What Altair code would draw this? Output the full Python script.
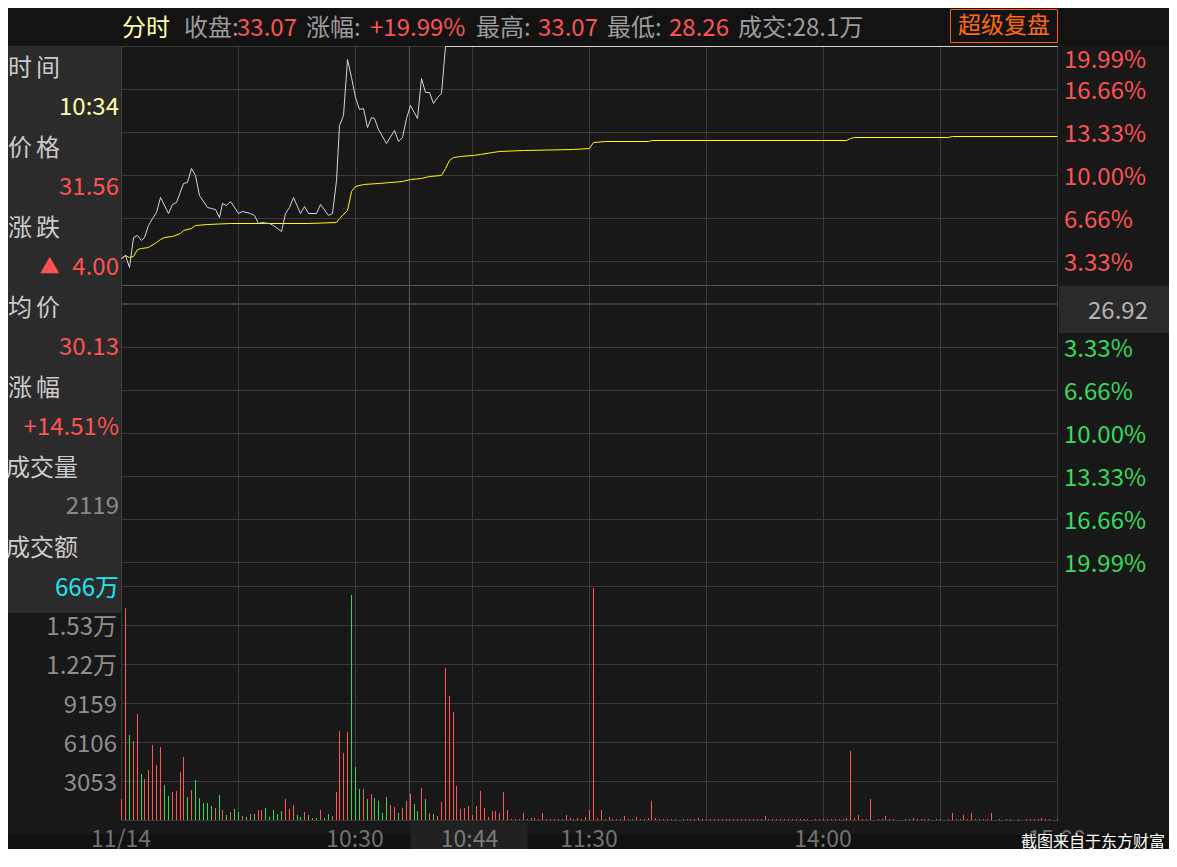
import altair as alt
import pandas as pd

FONT = "Noto Sans CJK SC"

# ---------------- data ----------------
# price line: minute index (0 = 09:30, 120 = 11:30/13:00, 240 = 15:00), change in %
price_min = [0, 1, 2, 3, 4, 5, 6, 7, 8, 9,
             10, 12, 13, 14, 16, 17, 18, 19, 20, 22,
             23, 24, 25, 26, 27, 28, 30, 31, 33, 34,
             35, 36, 38, 39, 41, 42, 43, 44, 46, 47,
             48, 50, 51, 53, 54, 55, 56, 57, 58, 59,
             60, 61, 62, 63, 64, 65, 66, 68, 70, 71,
             72, 73, 74, 76, 77, 78, 79, 80, 81, 82,
             83, 240]
price_pct = [3.54, 3.80, 2.84, 5.22, 5.35, 4.96, 5.22, 6.12, 6.64, 7.16,
             8.27, 7.08, 7.75, 7.93, 9.36, 9.48, 10.52, 10.00, 8.45, 7.54,
             7.42, 7.34, 6.77, 7.80, 7.67, 8.01, 7.08, 7.23, 7.08, 6.90,
             6.30, 6.38, 6.25, 6.12, 5.66, 7.03, 7.54, 8.27, 7.08, 7.60,
             7.03, 7.03, 7.75, 6.90, 7.08, 9.61, 13.88, 14.65, 18.97, 17.62,
             16.07, 15.12, 15.17, 13.70, 14.47, 14.40, 13.54, 12.45, 13.49, 12.66,
             12.97, 14.40, 15.43, 14.40, 17.50, 16.46, 16.46, 15.60, 16.07, 16.33,
             19.99, 19.99]

# average price line
avg_min = [0, 1, 2, 3, 4, 5, 7, 9, 10, 11,
           13, 15, 16, 18, 19, 22, 28, 37, 48, 55,
           56, 58, 59, 60, 62, 66, 69, 72, 74, 77,
           79, 82, 83, 84, 85, 87, 90, 92, 95, 97,
           103, 116, 120, 121, 124, 135, 136, 186, 187, 188,
           212, 213, 240]
avg_pct = [3.54, 3.80, 3.67, 3.72, 4.24, 4.32, 4.44, 4.83, 5.01, 5.22,
           5.27, 5.48, 5.74, 5.87, 6.10, 6.20, 6.25, 6.28, 6.30, 6.33,
           6.64, 7.29, 8.78, 9.15, 9.28, 9.40, 9.48, 9.53, 9.66, 9.77,
           9.92, 9.97, 10.52, 11.16, 11.37, 11.45, 11.55, 11.63, 11.76, 11.84,
           11.91, 11.99, 12.07, 12.53, 12.61, 12.61, 12.69, 12.69, 12.84, 12.92,
           12.92, 13.00, 13.00]

# volume per minute (0..240) and direction r = up, g = down
vol = [1620, 16620, 6650, 6180, 8300, 3600, 3210, 3910, 5870, 4300,
       5710, 2740, 1880, 2190, 2270, 3760, 4930, 1800, 2350, 3130,
       1720, 1330, 1330, 1100, 940, 1960, 780, 390, 630, 860,
       630, 310, 230, 470, 470, 780, 780, 940, 230, 780,
       470, 700, 1640, 860, 1170, 390, 230, 630, 390, 160,
       160, 780, 160, 470, 310, 2190, 6970, 5240, 6890, 17610,
       4150, 2430, 2430, 1640, 2040, 1720, 1490, 550, 1800, 1170,
       1020, 550, 940, 1490, 2040, 1250, 700, 2500, 1640, 550,
       470, 310, 1410, 11900, 9700, 8450, 2660, 860, 940, 1100,
       390, 1100, 2270, 940, 230, 700, 700, 550, 2190, 780,
       80, 80, 80, 550, 80, 160, 160, 80, 550, 80,
       80, 80, 80, 80, 390, 160, 80, 160, 80, 230,
       780, 18160, 160, 780, 80, 230, 80, 80, 80, 310,
       80, 80, 230, 80, 80, 160, 1490, 160, 80, 80,
       80, 80, 80, 0, 80, 80, 80, 80, 160, 80,
       80, 80, 80, 80, 80, 80, 80, 80, 80, 80,
       80, 80, 80, 80, 80, 310, 80, 80, 80, 80,
       80, 80, 80, 80, 80, 80, 80, 0, 80, 80,
       80, 80, 80, 80, 80, 80, 160, 5400, 160, 390,
       80, 80, 1640, 0, 80, 80, 310, 80, 80, 0,
       0, 80, 80, 160, 80, 80, 80, 80, 0, 80,
       80, 0, 80, 550, 80, 80, 390, 80, 550, 80,
       80, 80, 80, 550, 0, 80, 0, 80, 80, 0,
       80, 0, 80, 80, 80, 80, 160, 80, 80, 0,
       80]
vol_dir = ("rrgrrgrrrr" "rggrrrrgrg" "ggggrgrgrg" "grgrgrrggg" "ggrrrggrgr"
           "grggrrrrrg" "ggrgrggggr" "rgrrrggrgr" "grrrrrrrrr" + "r" * 151)

# axis ticks
grid_pct = [19.99, 16.66, 13.33, 10.00, 6.66, 3.33, -3.33, -6.66, -10.00, -13.33, -16.66, -19.99]
up_ticks = [16.66, 13.33, 10.00, 6.66, 3.33]
up_labels = ["16.66%", "13.33%", "10.00%", "6.66%", "3.33%"]
down_ticks = [-3.33, -6.66, -10.00, -13.33, -16.66, -19.99]
down_labels = ["3.33%", "6.66%", "10.00%", "13.33%", "16.66%", "19.99%"]
vol_ticks = [3053, 6106, 9159, 12212, 15265]
vol_labels = ["3053", "6106", "9159", "1.22万", "1.53万"]
vol_grid = [0, 3053, 6106, 9159, 12212, 15265, 18318]
time_ticks = [0, 60, 120, 180, 240]
time_labels = ["11/14", "10:30", "11:30", "14:00", "15:00"]
grid_min = [0, 30, 60, 90, 120, 150, 180, 210, 240]
cursor_min = [74]
ref_line = [1.46]
zero_line = [0.0]

# ---------------- layout / style ----------------
X0, Y0 = 121, 46          # plot origin in page pixels
W, H = 936, 774
RIGHT, BOTTOM = 1169, 849  # page pixel where the svg ends
PX_PER_PCT = 12.9
PX_PER_3053 = 39.0
FS = 24
TEXT_SHIFT = 1.5

RED = "#ff5353"
GREEN = "#35dc5c"
BAR_RED = "#ff5656"
BAR_GREEN = "#3cd65a"
GRID = "#3a3a3a"
LABEL = "#cccccc"
GREY = "#9c9c9c"

XS = alt.Scale(domain=[0, 240], nice=False, zero=False, round=True)
PS = alt.Scale(domain=[19.99 - H / PX_PER_PCT, 19.99], nice=False, zero=False, round=True)
VS = alt.Scale(domain=[0, 3053 * H / PX_PER_3053], nice=False, zero=False, round=True)

anchor = pd.DataFrame({"k": [0]})


def px(rx):
    return rx - X0


def py(ry):
    return ry - Y0


def rect(rx1, ry1, rx2, ry2, fill):
    return alt.Chart(anchor).mark_rect(fill=fill).encode(
        x=alt.value(px(rx1)), x2=alt.value(px(rx2)),
        y=alt.value(py(ry1)), y2=alt.value(py(ry2)))


def label(s, rx, ry, color, size=FS, align="left"):
    return alt.Chart(anchor).mark_text(
        align=align, baseline="middle", font=FONT, fontSize=size, color=color
    ).encode(x=alt.value(px(rx)), y=alt.value(py(ry) + TEXT_SHIFT), text=alt.value(s))


layers = []

# background regions
layers += [
    rect(8, 8, RIGHT, 46, "#131313"),
    rect(8, 834, RIGHT, BOTTOM, "#111111"),
    rect(410.5, 822, 527.5, BOTTOM, "#212121"),
    rect(8, 46, 121, 613, "#2b2b2b"),
    rect(1059, 286, RIGHT, 333, "#2a2a2a"),
]
layers.append(
    alt.Chart(anchor).mark_rect(fillOpacity=0, stroke="#ff5a00", strokeWidth=1).encode(
        x=alt.value(px(950.5)), x2=alt.value(px(1057.5)),
        y=alt.value(py(9.5)), y2=alt.value(py(42.5))))

# grid lines
layers.append(
    alt.Chart(pd.DataFrame({"p": grid_pct})).mark_rule(color=GRID, strokeWidth=1, yOffset=0.5).encode(
        y=alt.Y("p:Q", scale=PS, axis=None), x=alt.value(0), x2=alt.value(W + 1)))
layers.append(
    alt.Chart(pd.DataFrame({"p": ref_line})).mark_rule(color="#575757", strokeWidth=1, yOffset=0.5).encode(
        y=alt.Y("p:Q", scale=PS, axis=None), x=alt.value(0), x2=alt.value(W + 1)))
layers.append(
    alt.Chart(pd.DataFrame({"p": zero_line})).mark_rule(color="#3f3f3f", strokeWidth=2).encode(
        y=alt.Y("p:Q", scale=PS, axis=None), x=alt.value(0), x2=alt.value(W + 1)))
layers.append(
    alt.Chart(pd.DataFrame({"v": vol_grid})).mark_rule(color=GRID, strokeWidth=1, yOffset=0.5).encode(
        y=alt.Y("v:Q", scale=VS, axis=None), x=alt.value(0), x2=alt.value(W + 1)))
layers.append(
    alt.Chart(pd.DataFrame({"m": grid_min})).mark_rule(color=GRID, strokeWidth=1, xOffset=0.5).encode(
        x=alt.X("m:Q", scale=XS, axis=None), y=alt.value(0), y2=alt.value(H)))
layers.append(
    alt.Chart(pd.DataFrame({"m": cursor_min})).mark_rule(color="#575757", strokeWidth=1, xOffset=-0.5).encode(
        x=alt.X("m:Q", scale=XS, axis=None), y=alt.value(0), y2=alt.value(H)))

# volume bars
vol_df = pd.DataFrame({"m": list(range(len(vol))), "v": vol, "d": list(vol_dir)})
layers.append(
    alt.Chart(vol_df).mark_rule(strokeWidth=1, xOffset=0.5).encode(
        x=alt.X("m:Q", scale=XS, axis=None),
        y=alt.Y("v:Q", scale=VS, axis=None),
        y2=alt.datum(0),
        color=alt.Color("d:N", scale=alt.Scale(domain=["r", "g"], range=[BAR_RED, BAR_GREEN]), legend=None)))

# average and price lines
layers.append(
    alt.Chart(pd.DataFrame({"m": avg_min, "p": avg_pct})).mark_line(
        color="#ffff00", strokeWidth=1, xOffset=0.5, yOffset=0.5).encode(
        x=alt.X("m:Q", scale=XS, axis=None), y=alt.Y("p:Q", scale=PS, axis=None)))
layers.append(
    alt.Chart(pd.DataFrame({"m": price_min, "p": price_pct})).mark_line(
        color="#d4d4d4", strokeWidth=1, xOffset=0.5, yOffset=0.5).encode(
        x=alt.X("m:Q", scale=XS, axis=None), y=alt.Y("p:Q", scale=PS, axis=None)))

# right price axis labels
layers.append(
    alt.Chart(pd.DataFrame({"p": up_ticks, "t": up_labels})).mark_text(
        align="left", baseline="middle", font=FONT, fontSize=FS, color=RED, dy=3).encode(
        y=alt.Y("p:Q", scale=PS, axis=None), x=alt.value(px(1064)), text="t:N"))
layers.append(
    alt.Chart(pd.DataFrame({"p": down_ticks, "t": down_labels})).mark_text(
        align="left", baseline="middle", font=FONT, fontSize=FS, color=GREEN, dy=3).encode(
        y=alt.Y("p:Q", scale=PS, axis=None), x=alt.value(px(1064)), text="t:N"))
layers.append(label("19.99%", 1064, 59.5, RED))
layers.append(label("26.92", 1118, 310, "#b4b4b4", align="center"))

# volume axis labels
layers.append(
    alt.Chart(pd.DataFrame({"v": vol_ticks, "t": vol_labels})).mark_text(
        align="right", baseline="middle", font=FONT, fontSize=FS, color="#8e8e8e", dy=3).encode(
        y=alt.Y("v:Q", scale=VS, axis=None), x=alt.value(px(117)), text="t:N"))

# time axis labels
layers.append(
    alt.Chart(pd.DataFrame({"m": time_ticks, "t": time_labels})).mark_text(
        align="center", baseline="middle", font=FONT, fontSize=23, color="#727272").encode(
        x=alt.X("m:Q", scale=XS, axis=None), y=alt.value(py(838) + TEXT_SHIFT), text="t:N"))
layers.append(label("10:44", 469.5, 838, "#7a7a7a", size=23, align="center"))

# watermark
layers.append(rect(1018, 834, RIGHT, BOTTOM, "#0f0f0f"))
layers.append(label("截图来自于东方财富", 1021, 840, "#ffffff", size=16))

# title bar
layers += [
    label("分时", 122, 27, "#ffffa8"),
    label("收盘:", 184, 27, GREY),
    label("33.07", 237, 27, RED),
    label("涨幅:", 306, 27, GREY),
    label("+19.99%", 370, 27, RED),
    label("最高:", 476, 27, GREY),
    label("33.07", 538, 27, RED),
    label("最低:", 607, 27, GREY),
    label("28.26", 669, 27, RED),
    label("成交:28.1万", 738, 27, GREY),
    label("超级复盘", 1004, 24, "#ff6a10", size=23, align="center"),
]

# info panel
layers += [
    label("时", 8, 67, LABEL), label("间", 36, 67, LABEL),
    label("10:34", 119, 106.5, "#ffffa8", align="right"),
    label("价", 8, 147, LABEL), label("格", 36, 147, LABEL),
    label("31.56", 119, 186.5, RED, align="right"),
    label("涨", 8, 227, LABEL), label("跌", 36, 227, LABEL),
    label("▲", 49.5, 266.5, RED, size=20, align="center"),
    label("4.00", 119, 266.5, RED, align="right"),
    label("均", 8, 307, LABEL), label("价", 36, 307, LABEL),
    label("30.13", 119, 346.5, RED, align="right"),
    label("涨", 8, 387, LABEL), label("幅", 36, 387, LABEL),
    label("+14.51%", 119, 426.5, RED, align="right"),
    label("成交量", 6, 467, LABEL),
    label("2119", 119, 505.5, "#8a8a8a", align="right"),
    label("成交额", 6, 547, LABEL),
    label("666万", 119, 587, "#1ee6f0", align="right"),
]

chart = alt.layer(*layers).resolve_scale(y="independent").properties(
    width=W, height=H,
    padding={"left": X0 - 8, "top": Y0 - 8, "right": RIGHT - (X0 + W), "bottom": BOTTOM - (Y0 + H)},
    autosize=alt.AutoSizeParams(type="none"),
    background="#181818",
).configure_view(stroke=None)

chart.save("out.html", embed_options={"renderer": "svg", "actions": False})
